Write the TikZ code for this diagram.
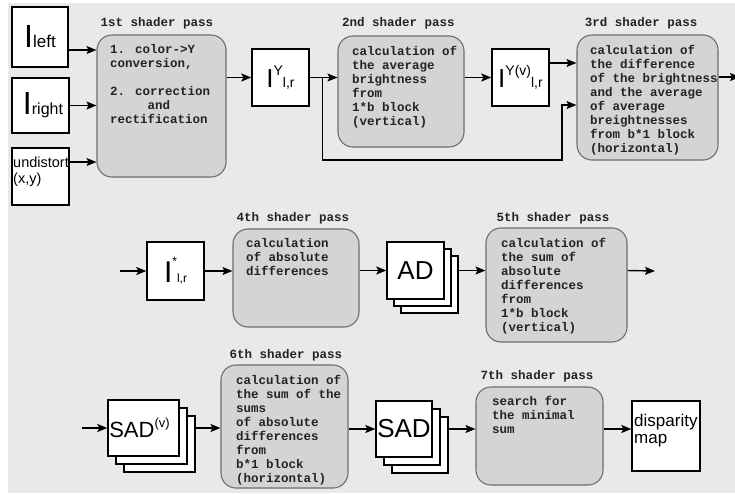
\documentclass[tikz,border=0pt]{standalone}
\usepackage{fontspec}
\setmainfont{Liberation Sans}
\newfontfamily\passfont{Liberation Mono}
\usetikzlibrary{arrows.meta}
\definecolor{bgc}{RGB}{234,233,232}
\definecolor{passfill}{RGB}{212,212,212}
\definecolor{passline}{RGB}{110,110,110}
\definecolor{ink}{RGB}{35,35,35}
\newcommand{\fs}[2]{\fontsize{#1}{#2}\selectfont}
\newcommand{\st}{\rule{0pt}{11pt}}
\begin{document}
\begin{tikzpicture}[x=1pt,y=-1pt,
  wbox/.style={draw=black, fill=white, line width=1.4pt, inner sep=0pt, text=black},
  pass/.style={draw=passline, fill=passfill, line width=1.1pt, rounded corners=15pt, inner sep=0pt},
  ptext/.style={anchor=north west, inner sep=0pt, align=left, text=ink, font=\passfont\bfseries\fs{12.5}{14}},
  plabel/.style={anchor=base, inner sep=0pt, text=ink, font=\passfont\bfseries\fs{12.5}{14}},
  arr/.style={-{Stealth[length=10pt,width=8pt,inset=2pt]}, line width=1.4pt, black},
  sz/.style 2 args={minimum width=#1pt, minimum height=#2pt}
]
\useasboundingbox (0,0) rectangle (735,493);
\fill[white] (0,0) rectangle (735,493);
\fill[bgc] (8,3) rectangle (735,493);

% ---- row 1
\node[wbox, sz={56}{60}] (Ileft) at (40,37) {{\fs{32}{32}I}{\fs{17}{17}left}};
\node[wbox, sz={57}{55}] (Iright) at (40.5,105.5) {\hspace*{5pt}{\fs{32}{32}I}{\fs{16}{16}right}};
\node[wbox, sz={57}{57}] (undist) at (40.5,176.5) {};
\node[anchor=north west, inner sep=0pt, align=left, font=\fs{14.5}{16}] (undistT) at (13,156) {\st undistort\\(x,y)};

\node[pass, sz={129}{142}] (p1) at (161.5,106) {};
\node[plabel] (p1l) at (157,26) {1st shader pass};
\node[ptext] (p1t) at (110,42) {\st 1. color->Y\\conversion,\\[14pt]2. correction\\\phantom{xxxxx}and\\rectification};

\node[wbox, sz={57}{57}] (IY) at (280.5,77.5) {{\fs{26}{26}I}\raisebox{12pt}{\fs{14}{14}Y}{\fs{14}{14}l,r}};

\node[pass, sz={126}{111}] (p2) at (401,91.5) {};
\node[plabel] (p2l) at (398.5,26) {2nd shader pass};
\node[ptext] (p2t) at (352,44) {\st calculation of\\the average\\brightness\\from\\1*b block\\(vertical)};

\node[wbox, sz={57}{57}] (IYv) at (520.5,77.5) {{\fs{26}{26}I}\raisebox{12pt}{\fs{14}{14}Y(v)}{\fs{14}{14}l,r}};

\node[pass, sz={141}{125}] (p3) at (647.5,97.5) {};
\node[plabel] (p3l) at (641,26) {3rd shader pass};
\node[ptext] (p3t) at (590,43) {\st calculation of\\the difference\\of the brightness\\and the average\\of average\\breightnesses\\from b*1 block\\(horizontal)};
\coordinate (out3) at (740,77);

% ---- row 2
\coordinate (in4) at (120,271);
\node[wbox, sz={57}{58}] (Istar) at (175.5,271) {{\fs{30}{30}I}\raisebox{17pt}{\fs{12}{12}*}{\fs{12}{12}l,r}};

\node[pass, sz={126}{98}] (p4) at (296,278) {};
\node[plabel] (p4l) at (293,221) {4th shader pass};
\node[ptext] (p4t) at (246,236) {\st calculation\\of absolute\\differences};

\node[wbox, sz={57}{57}] (ADb2) at (429.5,284.5) {};
\node[wbox, sz={57}{57}] (ADb1) at (422.5,277.5) {};
\node[wbox, sz={57}{57}] (AD) at (415.5,270.5) {\fs{26}{26}AD};

\node[pass, sz={141}{114}] (p5) at (556.5,285) {};
\node[plabel] (p5l) at (553,221) {5th shader pass};
\node[ptext] (p5t) at (501,236) {\st calculation of\\the sum of\\absolute\\differences\\from\\1*b block\\(vertical)};
\coordinate (out5) at (655,271);

% ---- row 3
\coordinate (in6) at (82,428);
\node[wbox, sz={71}{56}] (SADvb2) at (159.5,444) {};
\node[wbox, sz={71}{56}] (SADvb1) at (151.5,436) {};
\node[wbox, sz={71}{56}] (SADv) at (143.5,428) {{\fs{22}{22}SAD}\raisebox{10pt}{\fs{13}{13}(v)}\hspace*{8pt}};

\node[pass, sz={127}{123}] (p6) at (284.5,426.5) {};
\node[plabel] (p6l) at (286,358) {6th shader pass};
\node[ptext] (p6t) at (236,373) {\st calculation of\\the sum of the\\sums\\of absolute\\differences\\from\\b*1 block\\(horizontal)};

\node[wbox, sz={56}{56}] (SADb2) at (420,445) {};
\node[wbox, sz={56}{56}] (SADb1) at (412,437) {};
\node[wbox, sz={56}{56}] (SAD) at (404,429) {\fs{26}{26}SAD};

\node[pass, sz={127}{98}] (p7) at (539.5,436) {};
\node[plabel] (p7l) at (537,379) {7th shader pass};
\node[ptext] (p7t) at (492,394) {\st search for\\the minimal\\sum};

\node[wbox, sz={68}{70}] (disp) at (666,436) {};
\node[anchor=north west, inner sep=0pt, align=left, font=\fs{17}{17}] (dispT) at (634,413) {\rule{0pt}{13pt}disparity\\map};

% ---- connectors
\draw[arr] (Ileft.east |- 0,50) -- (p1.west |- 0,50);
\draw[arr] (Iright.east) -- (p1.west |- Iright.east);
\draw[arr] (undist.east |- 0,162) -- (p1.west |- 0,162);
\draw[arr] (p1.east |- IY.west) -- (IY.west);
\draw[arr] (IY.east) -- (p2.west |- IY.east);
\draw[arr] (IY.east) -- ++(13,0) -- ++(0,82.5) -| (562,105) -- (p3.west |- 0,105);
\draw[arr] (p2.east |- IYv.west) -- (IYv.west);
\draw[arr] (IYv.east |- 0,63) -- (p3.west |- 0,63);
\draw[arr] (p3.east |- out3) -- (out3);

\draw[arr] (in4) -- (Istar.west);
\draw[arr] (Istar.east) -- (p4.west |- Istar.east);
\draw[arr] (p4.east |- AD.west) -- (AD.west);
\draw[arr] (ADb2.east |- AD.west) -- (p5.west |- AD.west);
\draw[arr] (p5.east |- AD.west) -- (out5);

\draw[arr] (in6) -- (SADv.west);
\draw[arr] (SADvb2.east |- SADv.west) -- (p6.west |- SADv.west);
\draw[arr] (p6.east |- SAD.west) -- (SAD.west);
\draw[arr] (SADb2.east |- SAD.west) -- (p7.west |- SAD.west);
\draw[arr] (p7.east |- SAD.west) -- (disp.west |- SAD.west);
\end{tikzpicture}
\end{document}
